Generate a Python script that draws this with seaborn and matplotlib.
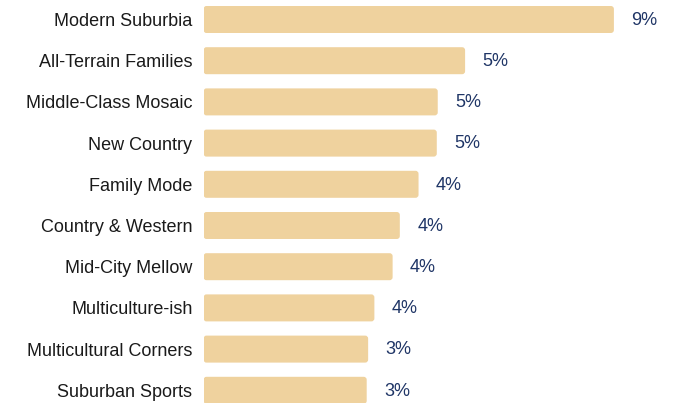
import matplotlib
matplotlib.use("Agg")
import matplotlib.pyplot as plt
from matplotlib.patches import FancyBboxPatch
import seaborn as sns
import pandas as pd

categories = ["Modern Suburbia", "All-Terrain Families", "Middle-Class Mosaic",
              "New Country", "Family Mode", "Country & Western", "Mid-City Mellow",
              "Multiculture-ish", "Multicultural Corners", "Suburban Sports"]
values = [8.55, 5.45, 4.88, 4.86, 4.48, 4.09, 3.94, 3.56, 3.43, 3.40]

df = pd.DataFrame({"segment": categories, "share": values})

sns.set_theme(style="white")
plt.rcParams["font.family"] = ["Liberation Sans", "DejaVu Sans"]

W, H, DPI = 682, 403, 100
fig = plt.figure(figsize=(W / DPI, H / DPI), dpi=DPI)
left_px = 203.5
px_per_unit = 48.0
row_px = 41.2
first_center = 19.5
ax = fig.add_axes([left_px / W, 0, (W - left_px) / W, 1])

bar_color = "#EFD29E"
sns.barplot(data=df, x="share", y="segment", order=categories, color=bar_color,
            saturation=1, width=27 / row_px, ax=ax, edgecolor="none")

ax.set_xlim(0, (W - left_px) / px_per_unit)
ax.set_ylim((H - first_center) / row_px, -first_center / row_px)

# round the bar corners slightly
radius_px = 3.0
rx = radius_px / px_per_unit
ry = radius_px / row_px
for p in list(ax.patches):
    x, y = p.get_x(), p.get_y()
    w, h = p.get_width(), p.get_height()
    fb = FancyBboxPatch((x, y), w, h, boxstyle=f"round,pad=0,rounding_size={rx}",
                        mutation_aspect=ry / rx, facecolor=bar_color, edgecolor="none")
    p.remove()
    ax.add_patch(fb)

for s in ax.spines.values():
    s.set_visible(False)
ax.set_xticks([])
ax.set_xlabel("")
ax.set_ylabel("")
ax.tick_params(axis="y", length=0, pad=8, labelsize=13, labelcolor="#1a1a1a")

for i, v in enumerate(values):
    ax.annotate(f"{round(v):.0f}%", xy=(v, i), xytext=(12.6, -0.6), textcoords="offset points",
                va="center", ha="left", fontsize=13, color="#1F3566")

fig.savefig("out.png", dpi=DPI)
